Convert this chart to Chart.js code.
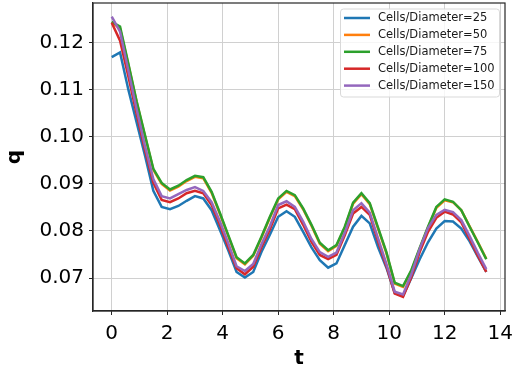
<!DOCTYPE html>
<html><head><meta charset="utf-8">
<script src="https://cdn.jsdelivr.net/npm/chart.js@4.4.1/dist/chart.umd.min.js"></script>
<style>html,body{margin:0;padding:0;background:#fff;}#wrap{width:516px;height:372px;}</style>
</head><body><div id="wrap"><canvas id="c" width="516" height="372"></canvas></div>
<script>
const tValues = [0,0.3,0.6,0.9,1.2,1.5,1.8,2.1,2.4,2.7,3.0,3.3,3.6,3.9,4.2,4.5,4.8,5.1,5.4,5.7,6.0,6.3,6.6,6.9,7.2,7.5,7.8,8.1,8.4,8.7,9.0,9.3,9.6,9.9,10.2,10.5,10.8,11.1,11.4,11.7,12.0,12.3,12.6,12.9,13.2,13.5];
const q25  = [0.1169,0.1179,0.1100,0.1030,0.0960,0.0885,0.0851,0.0846,0.0853,0.0864,0.0874,0.0869,0.0844,0.0802,0.0759,0.0713,0.0701,0.0713,0.0756,0.0792,0.0830,0.0842,0.0830,0.0798,0.0765,0.0738,0.0722,0.0731,0.0770,0.0809,0.0832,0.0816,0.0765,0.0722,0.0668,0.0662,0.0700,0.0740,0.0776,0.0805,0.0821,0.0820,0.0805,0.0778,0.0745,0.0713];
const q50  = [0.1243,0.1230,0.1153,0.1073,0.1001,0.0930,0.0900,0.0886,0.0894,0.0906,0.0915,0.0912,0.0881,0.0836,0.0789,0.0742,0.0729,0.0747,0.0786,0.0828,0.0867,0.0883,0.0874,0.0846,0.0811,0.0773,0.0757,0.0768,0.0807,0.0858,0.0878,0.0857,0.0805,0.0753,0.0688,0.0681,0.0715,0.0762,0.0807,0.0849,0.0865,0.0861,0.0844,0.0810,0.0776,0.0741];
const q75  = [0.1244,0.1234,0.1155,0.1075,0.1003,0.0932,0.0902,0.0888,0.0896,0.0908,0.0917,0.0914,0.0883,0.0838,0.0791,0.0744,0.0731,0.0749,0.0788,0.0830,0.0869,0.0885,0.0876,0.0848,0.0813,0.0775,0.0759,0.0770,0.0809,0.0860,0.0880,0.0859,0.0807,0.0755,0.0690,0.0683,0.0717,0.0764,0.0809,0.0851,0.0867,0.0862,0.0844,0.0809,0.0775,0.0740];
const q100 = [0.1242,0.1204,0.1128,0.1048,0.0972,0.0902,0.0866,0.0861,0.0869,0.0880,0.0885,0.0880,0.0855,0.0813,0.0766,0.0721,0.0708,0.0724,0.0766,0.0803,0.0848,0.0856,0.0846,0.0813,0.0777,0.0749,0.0740,0.0749,0.0791,0.0837,0.0851,0.0834,0.0778,0.0725,0.0667,0.0660,0.0702,0.0755,0.0798,0.0828,0.0841,0.0835,0.0818,0.0783,0.0747,0.0713];
const q150 = [0.1255,0.1223,0.1140,0.1058,0.0980,0.0910,0.0874,0.0869,0.0878,0.0887,0.0893,0.0885,0.0861,0.0820,0.0774,0.0725,0.0715,0.0730,0.0772,0.0810,0.0855,0.0863,0.0851,0.0820,0.0783,0.0755,0.0745,0.0754,0.0796,0.0844,0.0859,0.0839,0.0784,0.0730,0.0671,0.0665,0.0708,0.0762,0.0806,0.0834,0.0845,0.0840,0.0823,0.0789,0.0753,0.0719];
const seriesLabels = ['Cells/Diameter=25','Cells/Diameter=50','Cells/Diameter=75','Cells/Diameter=100','Cells/Diameter=150'];
const seriesColors = ['#1f77b4','#ff7f0e','#2ca02c','#d62728','#9467bd'];
const xTicks = [0,2,4,6,8,10,12,14];
const yTicks = [0.07,0.08,0.09,0.10,0.11,0.12];

const seriesValues = [q25,q50,q75,q100,q150];
const FONT = '"DejaVu Sans", sans-serif';

const datasets = seriesValues.map((vals,i)=>({
  label: seriesLabels[i],
  data: tValues.map((t,j)=>({x:t,y:vals[j]})),
  borderColor: seriesColors[i],
  backgroundColor: seriesColors[i],
  borderWidth: 2.5,
  pointRadius: 0,
  tension: 0,
  fill: false,
  order: seriesValues.length - 1 - i
}));

const framePlugin = {
  id: 'frame',
  afterDatasetsDraw(chart){
    const {ctx, chartArea:a} = chart;
    ctx.save();
    ctx.strokeStyle = '#262626';
    ctx.lineWidth = 1.2;
    ctx.strokeRect(a.left, a.top, a.right - a.left, a.bottom - a.top);
    ctx.restore();
  },
  afterDraw(chart){
    const {ctx, chartArea:a} = chart;
    const bx = a.right - 164.5, by = a.top + 6, bw = 159, bh = 88, r = 3;
    ctx.save();
    ctx.beginPath();
    ctx.moveTo(bx + r, by);
    ctx.lineTo(bx + bw - r, by);
    ctx.quadraticCurveTo(bx + bw, by, bx + bw, by + r);
    ctx.lineTo(bx + bw, by + bh - r);
    ctx.quadraticCurveTo(bx + bw, by + bh, bx + bw - r, by + bh);
    ctx.lineTo(bx + r, by + bh);
    ctx.quadraticCurveTo(bx, by + bh, bx, by + bh - r);
    ctx.lineTo(bx, by + r);
    ctx.quadraticCurveTo(bx, by, bx + r, by);
    ctx.closePath();
    ctx.fillStyle = 'rgba(255,255,255,0.8)';
    ctx.fill();
    ctx.strokeStyle = '#d9d9d9';
    ctx.lineWidth = 1;
    ctx.stroke();
    ctx.font = '11.5px ' + FONT;
    ctx.textBaseline = 'middle';
    ctx.textAlign = 'left';
    chart.data.datasets.forEach((ds,i)=>{
      const y = by + 9 + i * 16.9;
      ctx.beginPath();
      ctx.moveTo(bx + 3.5, y);
      ctx.lineTo(bx + 29.5, y);
      ctx.strokeStyle = ds.borderColor;
      ctx.lineWidth = 2.5;
      ctx.stroke();
      ctx.fillStyle = '#1a1a1a';
      ctx.fillText(ds.label, bx + 37.5, y);
    });
    ctx.restore();
  }
};

new Chart(document.getElementById('c'), {
  type: 'line',
  data: { datasets },
  options: {
    responsive: false,
    devicePixelRatio: 1,
    animation: false,
    events: [],
    layout: { padding: { top: 3, right: 11, bottom: 0, left: 0 } },
    plugins: { legend: { display: false }, tooltip: { enabled: false } },
    scales: {
      x: {
        type: 'linear',
        min: -0.675,
        max: 14.175,
        afterBuildTicks(s){ s.ticks = xTicks.map(v=>({value:v})); },
        afterFit(s){ s.height = 61; s.paddingLeft = 0; s.paddingRight = 0; },
        grid: { color: '#d0d0d0', lineWidth: 1, tickColor: '#262626', tickLength: 4, tickWidth: 1 },
        border: { display: true, color: '#262626', width: 1.2 },
        ticks: { color: '#000', padding: 7, font: { family: FONT, size: 20 }, maxRotation: 0, callback: v => String(v) },
        title: { display: true, text: 't', color: '#000', font: { family: FONT, size: 20, weight: 'bold' }, padding: { top: 0, bottom: 1 } }
      },
      y: {
        type: 'linear',
        min: 0.063,
        max: 0.1284,
        afterBuildTicks(s){ s.ticks = yTicks.map(v=>({value:v})); },
        afterFit(s){ s.width = 93; s.paddingTop = 0; s.paddingBottom = 0; },
        grid: { color: '#d0d0d0', lineWidth: 1, tickColor: '#262626', tickLength: 4, tickWidth: 1 },
        border: { display: true, color: '#262626', width: 1.2 },
        ticks: { color: '#000', padding: 5, font: { family: FONT, size: 20 }, callback: v => v.toFixed(2) },
        title: { display: true, text: 'q', color: '#000', font: { family: FONT, size: 20, weight: 'bold' }, padding: { top: 3, bottom: 0 } }
      }
    }
  },
  plugins: [framePlugin]
});
</script>
</body></html>
